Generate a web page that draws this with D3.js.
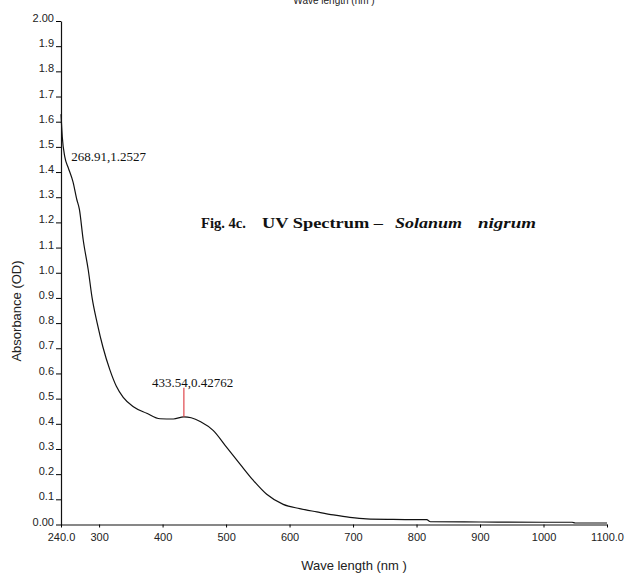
<!DOCTYPE html>
<html>
<head>
<meta charset="utf-8">
<script src="https://cdn.jsdelivr.net/npm/d3@7"></script>
<style>
  body { margin: 0; background: #fff; }
  svg { display: block; }
  .tick text { font-family: Arial, "Liberation Sans", sans-serif; font-size: 11px; fill: #222; }
</style>
</head>
<body>
<svg id="chart" width="629" height="575"></svg>
<script>
// Spectrum data
var wavelengths = [240, 242, 246, 251, 259, 265, 268.91, 275, 283, 289, 297, 306, 317, 327, 338, 354, 375, 396, 417, 433.54, 445, 460, 480, 501, 522, 543, 564, 590, 616, 643, 669, 695, 721, 763, 816, 822, 900, 1000, 1045, 1050, 1100];
var absorbance = [1.63, 1.54, 1.46, 1.42, 1.36, 1.29, 1.2527, 1.13, 1.01, 0.90, 0.80, 0.705, 0.614, 0.55, 0.505, 0.468, 0.442, 0.42, 0.419, 0.42762, 0.424, 0.408, 0.373, 0.306, 0.24, 0.175, 0.12, 0.08, 0.063, 0.05, 0.038, 0.028, 0.022, 0.02, 0.019, 0.011, 0.01, 0.009, 0.009, 0.006, 0.006];

// Ticks
var xTicks = [240, 300, 400, 500, 600, 700, 800, 900, 1000, 1100];
var yTicks = [0, 0.1, 0.2, 0.3, 0.4, 0.5, 0.6, 0.7, 0.8, 0.9, 1.0, 1.1, 1.2, 1.3, 1.4, 1.5, 1.6, 1.7, 1.8, 1.9, 2.0];

// Peak picks
var peakNm = [268.91, 433.54];
var peakAbs = [1.2527, 0.42762];

var svg = d3.select("#chart");

var x = d3.scaleLinear().domain([240, 1100]).range([61, 607]);
var y = d3.scaleLinear().domain([0, 2]).range([524.5, 21]);

var data = wavelengths.map(function (w, i) { return { nm: w, a: absorbance[i] }; });

// Axes
var yAxis = d3.axisLeft(y)
    .tickValues(yTicks)
    .tickSize(5)
    .tickSizeOuter(0)
    .tickPadding(2)
    .tickFormat(function (d) { return (d === 0 || d === 2) ? d.toFixed(2) : d.toFixed(1); });

var gy = svg.append("g").attr("transform", "translate(61,0)").call(yAxis);
gy.selectAll(".tick text").attr("dy", "0.05em");
gy.select(".domain").attr("stroke", "#111").attr("stroke-width", 1.2);

var xAxis = d3.axisBottom(x)
    .tickValues(xTicks)
    .tickSize(3)
    .tickSizeOuter(0)
    .tickPadding(6)
    .tickFormat(function (d) { return (d === 240 || d === 1100) ? d.toFixed(1) : d; });

var gx = svg.append("g").attr("transform", "translate(0,524.5)").call(xAxis);
gx.select(".domain").attr("stroke", "#111").attr("stroke-width", 1.2);

// Curve
var line = d3.line()
    .x(function (d) { return x(d.nm); })
    .y(function (d) { return y(d.a); })
    .curve(d3.curveMonotoneX);

svg.append("path")
    .datum(data)
    .attr("fill", "none")
    .attr("stroke", "#111")
    .attr("stroke-width", 1.2)
    .attr("d", line);

// Peak markers
svg.append("line")
    .attr("x1", x(peakNm[1])).attr("x2", x(peakNm[1]))
    .attr("y1", y(peakAbs[1])).attr("y2", y(peakAbs[1]) - 29)
    .attr("stroke", "#e0474c")
    .attr("stroke-width", 1.2);

svg.append("text")
    .attr("x", x(peakNm[0]) - 8)
    .attr("y", y(peakAbs[0]) - 48)
    .attr("font-family", "'Liberation Serif', 'Times New Roman', serif")
    .attr("font-size", 13)
    .attr("fill", "#111")
    .text(peakNm[0] + "," + peakAbs[0]);

svg.append("text")
    .attr("x", x(peakNm[1]) - 32)
    .attr("y", y(peakAbs[1]) - 30)
    .attr("font-family", "'Liberation Serif', 'Times New Roman', serif")
    .attr("font-size", 13)
    .attr("fill", "#111")
    .text(peakNm[1] + "," + peakAbs[1]);

// Figure caption, word groups stretched to the reference widths
var caption = [
    { t: "Fig. 4c.", x0: 201, w: 45, it: false },
    { t: "UV Spectrum –", x0: 262, w: 121, it: false },
    { t: "Solanum", x0: 395, w: 67, it: true },
    { t: "nigrum", x0: 478, w: 58, it: true }
];
svg.selectAll("text.caption")
    .data(caption)
    .enter().append("text")
    .attr("class", "caption")
    .attr("x", function (d) { return d.x0; })
    .attr("y", 228)
    .attr("textLength", function (d) { return d.w; })
    .attr("lengthAdjust", "spacingAndGlyphs")
    .attr("font-family", "'Liberation Serif', 'Times New Roman', serif")
    .attr("font-size", 14.5)
    .attr("font-weight", "bold")
    .attr("font-style", function (d) { return d.it ? "italic" : "normal"; })
    .attr("fill", "#111")
    .text(function (d) { return d.t; });

// Axis titles
svg.append("text")
    .attr("x", 354).attr("y", 570)
    .attr("text-anchor", "middle")
    .attr("font-family", "Arial, 'Liberation Sans', sans-serif")
    .attr("font-size", 13)
    .attr("fill", "#222")
    .text("Wave length (nm )");

svg.append("text")
    .attr("x", 334).attr("y", 4)
    .attr("text-anchor", "middle")
    .attr("font-family", "Arial, 'Liberation Sans', sans-serif")
    .attr("font-size", 10)
    .attr("fill", "#222")
    .text("Wave length (nm )");

svg.append("text")
    .attr("transform", "translate(21,311) rotate(-90)")
    .attr("text-anchor", "middle")
    .attr("font-family", "Arial, 'Liberation Sans', sans-serif")
    .attr("font-size", 13)
    .attr("fill", "#222")
    .text("Absorbance (OD)");
</script>
</body>
</html>
